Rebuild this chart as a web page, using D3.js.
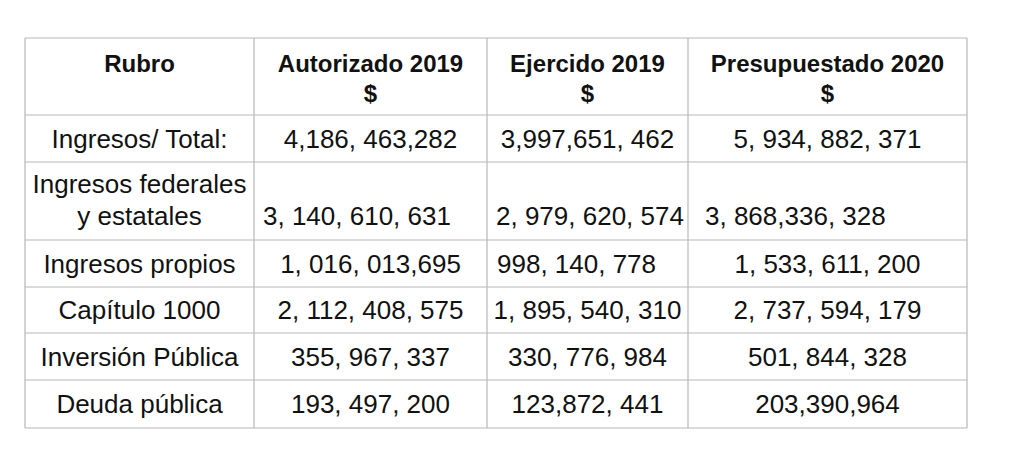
<!DOCTYPE html>
<html>
<head>
<meta charset="utf-8">
<script src="https://cdn.jsdelivr.net/npm/d3@7"></script>
<style>
  body { margin: 0; background: #fff; }
  text { font-family: "Liberation Sans", Arial, sans-serif; fill: #111; }
</style>
</head>
<body>
<svg id="chart" width="1023" height="468"></svg>
<script>
// table content
const headers = [["Rubro"], ["Autorizado 2019", "$"], ["Ejercido 2019", "$"], ["Presupuestado 2020", "$"]];
const rubros = [["Ingresos/ Total:"], ["Ingresos federales", "y estatales"], ["Ingresos propios"],
    ["Capítulo 1000"], ["Inversión Pública"], ["Deuda pública"]];
const autorizado2019 = ["4,186, 463,282", "3, 140, 610, 631", "1, 016, 013,695", "2, 112, 408, 575", "355, 967, 337", "193, 497, 200"];
const ejercido2019 = ["3,997,651, 462", "2, 979, 620, 574", "998, 140, 778", "1, 895, 540, 310", "330, 776, 984", "123,872, 441"];
const presupuestado2020 = ["5, 934, 882, 371", "3, 868,336, 328", "1, 533, 611, 200", "2, 737, 594, 179", "501, 844, 328", "203,390,964"];

// layout
const colEdges = [25, 254, 487, 688, 967];
const rowEdges = [38, 115, 162, 240, 287, 333, 380, 428];
// cells that are left aligned in the original (row-col) -> x offset
const leftCells = { "1-1": 9, "1-2": 9, "1-3": 17, "2-2": 10 };

const svg = d3.select("#chart");
const g = svg.append("g");

// grid lines
g.selectAll("line.v").data(colEdges).enter().append("line")
    .attr("x1", d => d).attr("x2", d => d)
    .attr("y1", rowEdges[0]).attr("y2", rowEdges[rowEdges.length - 1])
    .attr("stroke", "#b8b8b8").attr("stroke-width", 1.2);
g.selectAll("line.h").data(rowEdges).enter().append("line")
    .attr("y1", d => d).attr("y2", d => d)
    .attr("x1", colEdges[0]).attr("x2", colEdges[colEdges.length - 1])
    .attr("stroke", "#b8b8b8").attr("stroke-width", 1.2);

function cell(row, col, lines, opts) {
    const x0 = colEdges[col], x1 = colEdges[col + 1];
    const left = leftCells[row + "-" + col];
    const x = left !== undefined ? x0 + left : (x0 + x1) / 2;
    const t = g.append("text")
        .attr("text-anchor", left !== undefined ? "start" : "middle")
        .attr("font-size", opts.size)
        .attr("font-weight", opts.bold ? "bold" : "normal");
    lines.forEach((l, i) => {
        t.append("tspan").attr("x", x).attr("y", opts.y[i]).text(l);
    });
}

headers.forEach((h, c) => cell(-1, c, h, { size: 24, bold: true, y: [72, 102] }));

const body = rubros.map((r, i) => [r, [autorizado2019[i]], [ejercido2019[i]], [presupuestado2020[i]]]);
body.forEach((row, r) => {
    const top = rowEdges[r + 1], bot = rowEdges[r + 2];
    row.forEach((lines, c) => {
        let ys;
        if (r === 1) ys = lines.length === 2 ? [193, 225] : [225];
        else ys = [(top + bot) / 2 + 9];
        cell(r, c, lines, { size: 26, bold: false, y: ys });
    });
});
</script>
</body>
</html>
